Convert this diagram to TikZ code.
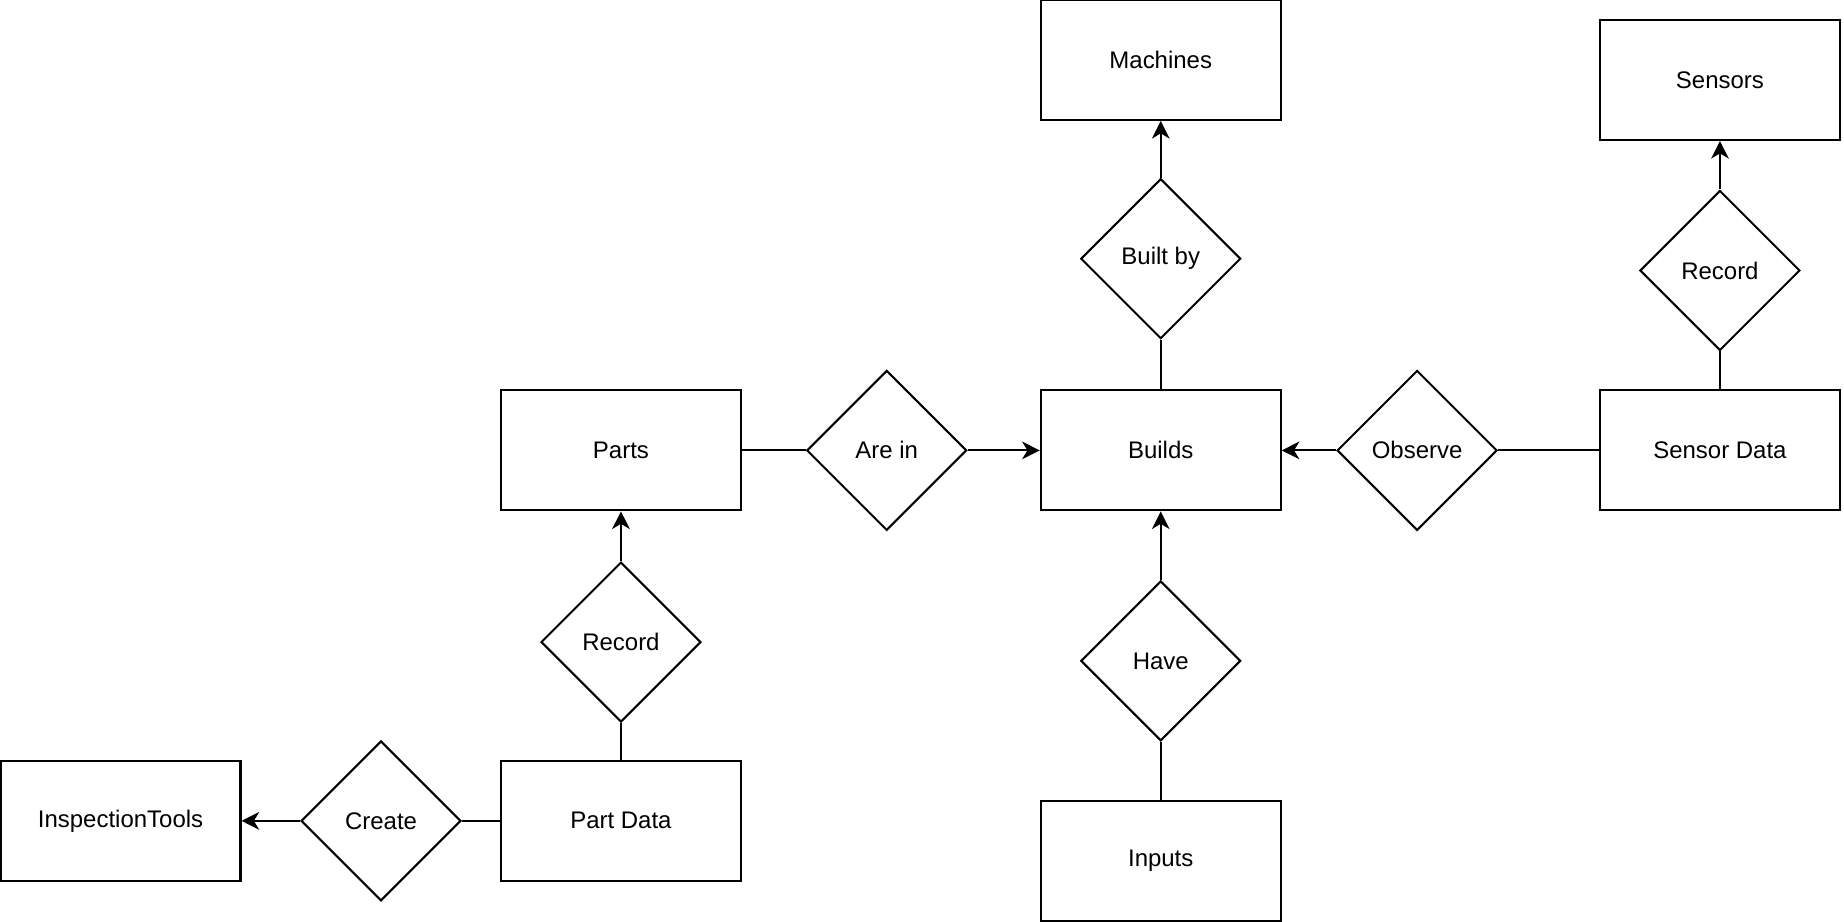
\documentclass[tikz,border=0pt]{standalone}
\usepackage{fontspec}
\setmainfont{Liberation Sans}
\usetikzlibrary{shapes.geometric,arrows.meta,positioning}

\begin{document}
\begin{tikzpicture}[
        x=0.02cm, y=-0.02cm,
        entity/.style={rectangle, draw, line width=1pt, minimum width=4.08cm, minimum height=2.04cm, font=\fontsize{11.6}{14}\selectfont},
        relation/.style={diamond, draw, line width=1pt, inner sep=0pt, minimum width=2.72cm, minimum height=2.72cm, font=\fontsize{11.6}{14}\selectfont},
        arrow/.style={-{Stealth[length=3mm, width=3mm, inset=0.9mm]}, line width=1pt},
        link/.style={line width=1pt}
    ]
        \useasboundingbox (0,0) rectangle (1568,784);

        % Entities
        \node[entity] (machines) at (987,51) {Machines};
        \node[entity] (sensors) at (1462.5,68) {Sensors};
        \node[entity] (parts) at (528,383) {Parts};
        \node[entity] (builds) at (987,383) {Builds};
        \node[entity] (sdata) at (1462.5,383) {Sensor Data};
        \node[entity] (tools) at (102.5,698) {InspectionTools};
        \node[entity] (pdata) at (528,698) {Part Data};
        \node[entity] (inputs) at (987,732) {Inputs};

        % Relations
        \node[relation] (builtby) at (987,220) {Built by};
        \node[relation] (recs) at (1462.5,230) {Record};
        \node[relation] (arein) at (754,383) {Are in};
        \node[relation] (observe) at (1205,383) {Observe};
        \node[relation] (recp) at (528,546) {Record};
        \node[relation] (have) at (987,562) {Have};
        \node[relation] (create) at (324,698) {Create};

        % Plain links
        \foreach \a/\b in {builds/builtby, sdata/recs, parts/arein, sdata/observe, pdata/recp, inputs/have, pdata/create} {
            \draw[link] (\a) -- (\b);
        }

        % Arrows
        \foreach \a/\b in {builtby/machines, recs/sensors, arein/builds, observe/builds, recp/parts, have/builds, create/tools} {
            \draw[arrow] (\a) -- (\b);
        }

    \end{tikzpicture}
\end{document}
